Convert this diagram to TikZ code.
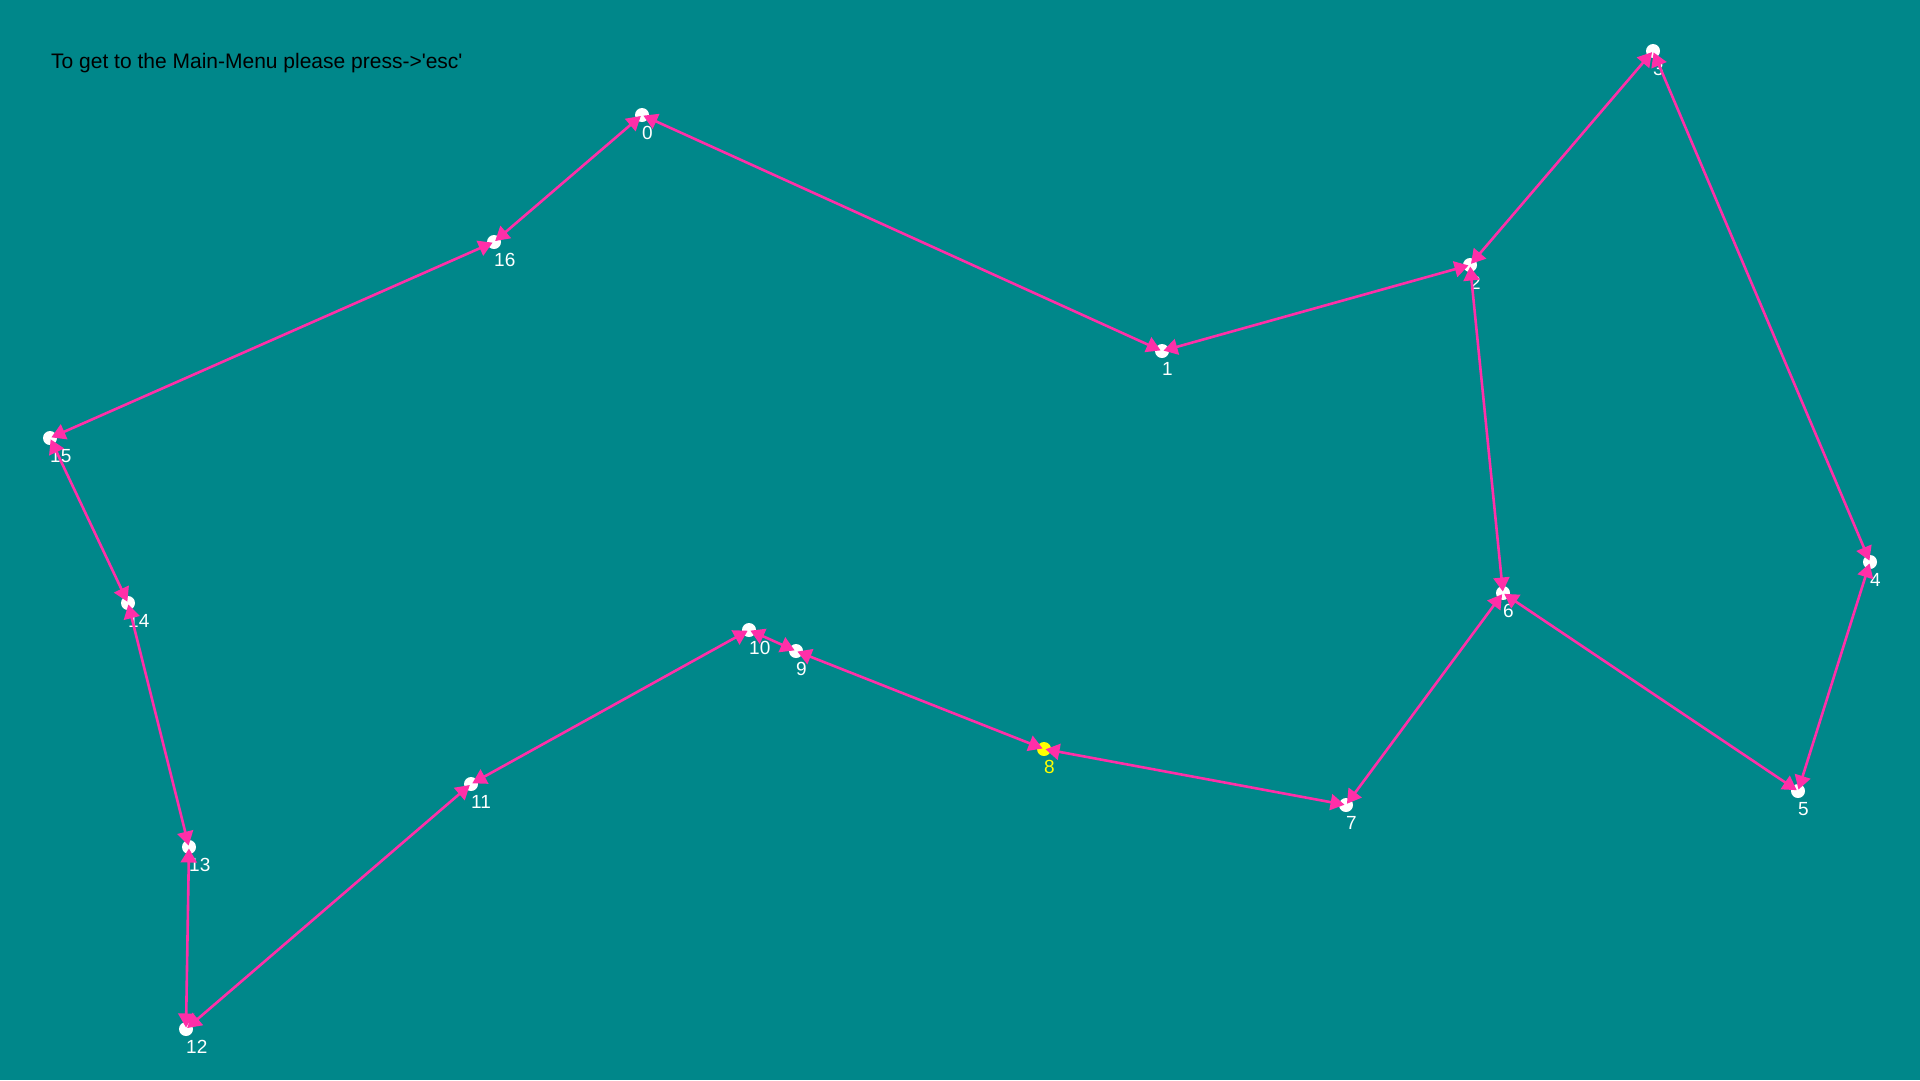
\documentclass[tikz,border=0pt]{standalone}
\usepackage{fontspec}
\setmainfont{Liberation Sans}
\usetikzlibrary{arrows.meta}
\definecolor{bgteal}{HTML}{00878A}
\definecolor{edgepink}{HTML}{FF2FA8}
\definecolor{dotyellow}{HTML}{FFFF00}
\newcommand\straightquote{\XeTeXglyph\XeTeXcharglyph"0027\relax}
\begin{document}
\begin{tikzpicture}[x=1pt,y=-1pt,
  dot/.style={circle,fill=white,inner sep=0pt,minimum size=14pt},
  ydot/.style={dot,fill=dotyellow},
  lbl/.style={text=white,font=\fontsize{19}{22}\selectfont,inner sep=0pt,anchor=base west},
  ylbl/.style={lbl,text=dotyellow},
  edge/.style={draw=edgepink,line width=2.6pt,shorten <=1.5pt,shorten >=1.5pt,
    {Triangle[length=14pt,width=16pt]}-{Triangle[length=14pt,width=16pt]}}]
\fill[bgteal] (0,0) rectangle (1920,1080);
\useasboundingbox (0,0) rectangle (1920,1080);
\node[anchor=base west,inner sep=0pt,font=\fontsize{21}{25}\selectfont] (title) at (51,68)
  {To get to the Main-Menu please press->\straightquote esc\straightquote};
% dots
\node[dot]  (n0)  at (642,115) {};
\node[dot]  (n1)  at (1162,351) {};
\node[dot]  (n2)  at (1470,265) {};
\node[dot]  (n3)  at (1653,51) {};
\node[dot]  (n4)  at (1870,562) {};
\node[dot]  (n5)  at (1798,791) {};
\node[dot]  (n6)  at (1503,593) {};
\node[dot]  (n7)  at (1346,805) {};
\node[ydot] (n8)  at (1044,749) {};
\node[dot]  (n9)  at (796,651) {};
\node[dot]  (n10) at (749,630) {};
\node[dot]  (n11) at (471,784) {};
\node[dot]  (n12) at (186,1029) {};
\node[dot]  (n13) at (189,847) {};
\node[dot]  (n14) at (128,603) {};
\node[dot]  (n15) at (50,438) {};
\node[dot]  (n16) at (494,242) {};
% labels
\foreach \i in {0,1,2,3,4,5,6,7,9,10,11,12,13,14,15,16}
  \node[lbl] (l\i) at ([shift={(0,24)}]n\i.center) {\i};
\node[ylbl] (l8) at ([shift={(0,24)}]n8.center) {8};
% edges
\draw[edge] (n0.center) -- (n1.center);
\draw[edge] (n1.center) -- (n2.center);
\draw[edge] (n2.center) -- (n3.center);
\draw[edge] (n3.center) -- (n4.center);
\draw[edge] (n4.center) -- (n5.center);
\draw[edge] (n5.center) -- (n6.center);
\draw[edge] (n6.center) -- (n2.center);
\draw[edge] (n6.center) -- (n7.center);
\draw[edge] (n7.center) -- (n8.center);
\draw[edge] (n8.center) -- (n9.center);
\draw[edge] (n9.center) -- (n10.center);
\draw[edge] (n10.center) -- (n11.center);
\draw[edge] (n11.center) -- (n12.center);
\draw[edge] (n12.center) -- (n13.center);
\draw[edge] (n13.center) -- (n14.center);
\draw[edge] (n14.center) -- (n15.center);
\draw[edge] (n15.center) -- (n16.center);
\draw[edge] (n16.center) -- (n0.center);
\end{tikzpicture}
\end{document}
